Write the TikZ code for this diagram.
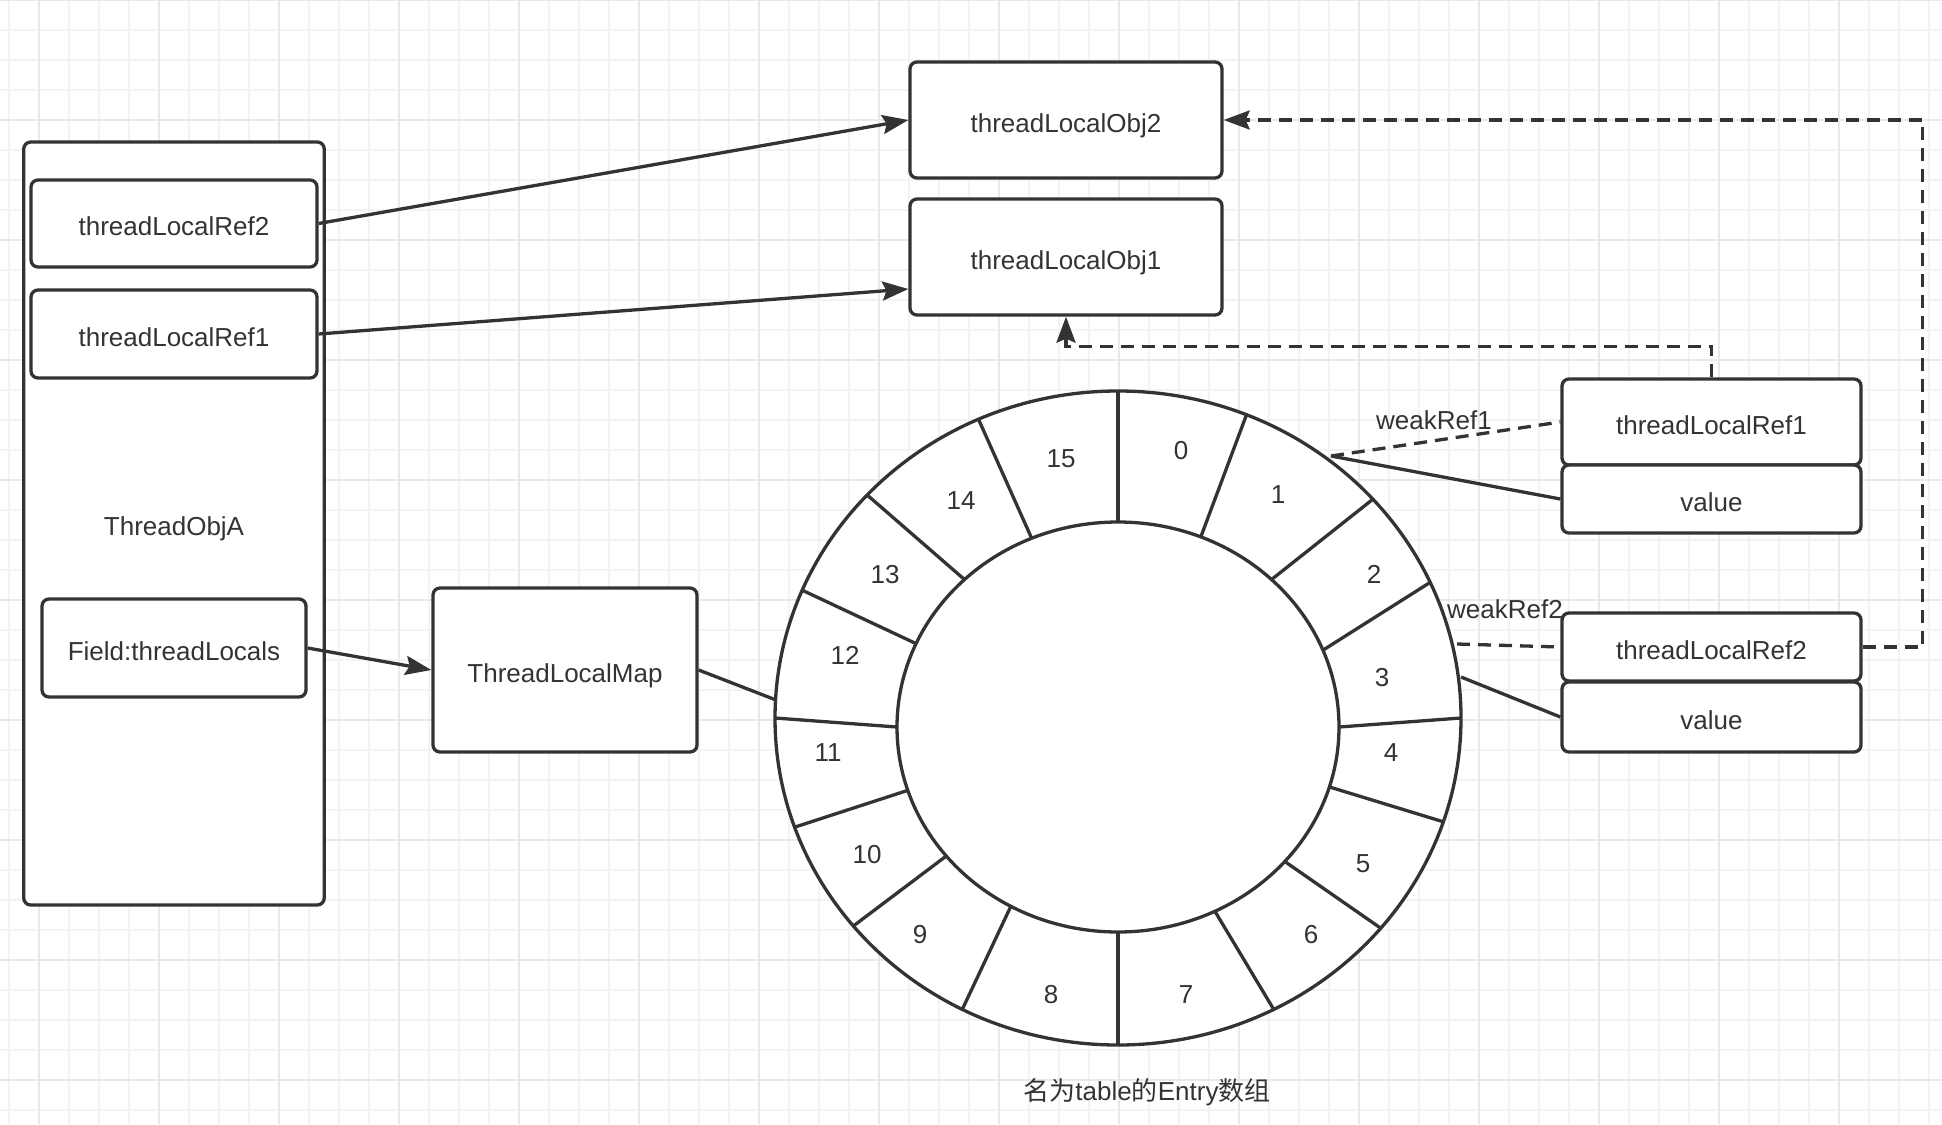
\documentclass[tikz,border=0pt]{standalone}
\usepackage{fontspec}
\setmainfont{Liberation Sans}
\newfontfamily\cjk{Noto Sans CJK SC}
\usetikzlibrary{arrows.meta}
\definecolor{ink}{HTML}{333333}
\definecolor{gridminor}{HTML}{F3F3F3}
\definecolor{gridmajor}{HTML}{E9E9E9}
\begin{document}
\begin{tikzpicture}[x=1pt,y=-1pt,
  box/.style={draw=ink, line width=3.3pt, rounded corners=7pt, fill=white, inner sep=0pt, text=ink, font=\fontsize{26}{30}\selectfont, text height=24pt, text depth=0pt},
  lbl/.style={text=ink, font=\fontsize{26}{30}\selectfont, inner sep=0pt},
  conn/.style={draw=ink, line width=3.3pt},
  dsh/.style={conn, dash pattern=on 13pt off 8pt},
  arr/.style={-{Stealth[length=26pt,width=19pt,inset=4pt]}},
]
\useasboundingbox (0,0) rectangle (1942,1124);
\fill[white] (0,0) rectangle (1942,1124);
% grid
\foreach \x in {9,39,...,1941} \draw[gridminor, line width=2pt] (\x,0) -- (\x,1124);
\foreach \y in {0,30,...,1124} \draw[gridminor, line width=2pt] (0,\y) -- (1942,\y);
\foreach \x in {39,159,...,1941} \draw[gridmajor, line width=2pt] (\x,0) -- (\x,1124);
\foreach \y in {0,120,...,1124} \draw[gridmajor, line width=2pt] (0,\y) -- (1942,\y);

% left thread object
\node[box, minimum width=300.5pt, minimum height=763pt] (obja) at (174,523.5) {ThreadObjA};
\node[box, minimum width=286pt, minimum height=87pt] (lref2) at (174,223.5) {threadLocalRef2};
\node[box, minimum width=286pt, minimum height=88pt] (lref1) at (174,334) {threadLocalRef1};
\node[box, minimum width=264pt, minimum height=98pt] (field) at (174,648) {Field:threadLocals};
\node[box, minimum width=264pt, minimum height=164pt] (tlm) at (565,670) {ThreadLocalMap};

% objects
\node[box, minimum width=312pt, minimum height=116pt] (obj2) at (1066,120) {threadLocalObj2};
\node[box, minimum width=312pt, minimum height=116pt] (obj1) at (1066,257) {threadLocalObj1};

% right entries
\node[box, minimum width=299pt, minimum height=86pt] (rref1) at (1711.5,422) {threadLocalRef1};
\node[box, minimum width=299pt, minimum height=68pt] (val1) at (1711.5,499) {value};
\node[box, minimum width=299pt, minimum height=68pt] (rref2) at (1711.5,647) {threadLocalRef2};
\node[box, minimum width=299pt, minimum height=70pt] (val2) at (1711.5,717) {value};

% ring
\draw[conn, fill=white] (1118,718) ellipse [x radius=343pt, y radius=327pt];
\draw[conn] (1118,727) ellipse [x radius=221pt, y radius=205pt];
\foreach \ia/\oa in {90/90,68/68,46/42,22/24.5,0/0,-17/-18.5,-41/-40,-64/-63,-90/-90,-119/-117,-141/-140.5,-162/-160.5,180/180,156/157,134/137,113/114}
  \draw[conn] ({1118+221*cos(\ia)},{727-205*sin(\ia)}) -- ({1118+343*cos(\oa)},{718-327*sin(\oa)});
\foreach \px/\py/\t in {1181/451/0,1278/495/1,1374/574/2,1382/678/3,1391/753/4,1363/864/5,1311/935/6,1186/995/7,1051/995/8,920/935/9,867/855/10,828/753/11,845/655/12,885/575/13,961/501/14,1061/459/15}
  \node[lbl] at (\px,\py) {\t};

% ring attachment points
\coordinate (ringL) at (776,700);
\coordinate (w1) at (1331,456);
\coordinate (w2a) at (1457,644);
\coordinate (w2b) at (1461,677);

% connectors
\draw[conn, arr] (lref2.east) -- (obj2.west);
\draw[conn, arr] (lref1.east) -- ([yshift=-32pt]obj1.west);
\draw[conn, arr] (field.east) -- (tlm.west);
\draw[conn] (tlm.east) -- (ringL);
\draw[dsh, arr] (rref1.north) -- ++(0,-31) -| (obj1.south);
\draw[dsh, arr] (rref2.east) -- ++(60,0) |- (obj2.east);
\draw[dsh] (w1) -- (rref1.west);
\draw[conn] (w1) -- (val1.west);
\draw[dsh] (w2a) -- (rref2.west);
\draw[conn] (w2b) -- (val2.west);

% labels
\node[lbl] (wr1lab) at (1434,420) {weakRef1};
\node[lbl] (wr2lab) at (1505,609) {weakRef2};
\node[lbl] (cap) at (1147,1092) {{\cjk 名为}table{\cjk 的}Entry{\cjk 数组}};
\end{tikzpicture}
\end{document}
